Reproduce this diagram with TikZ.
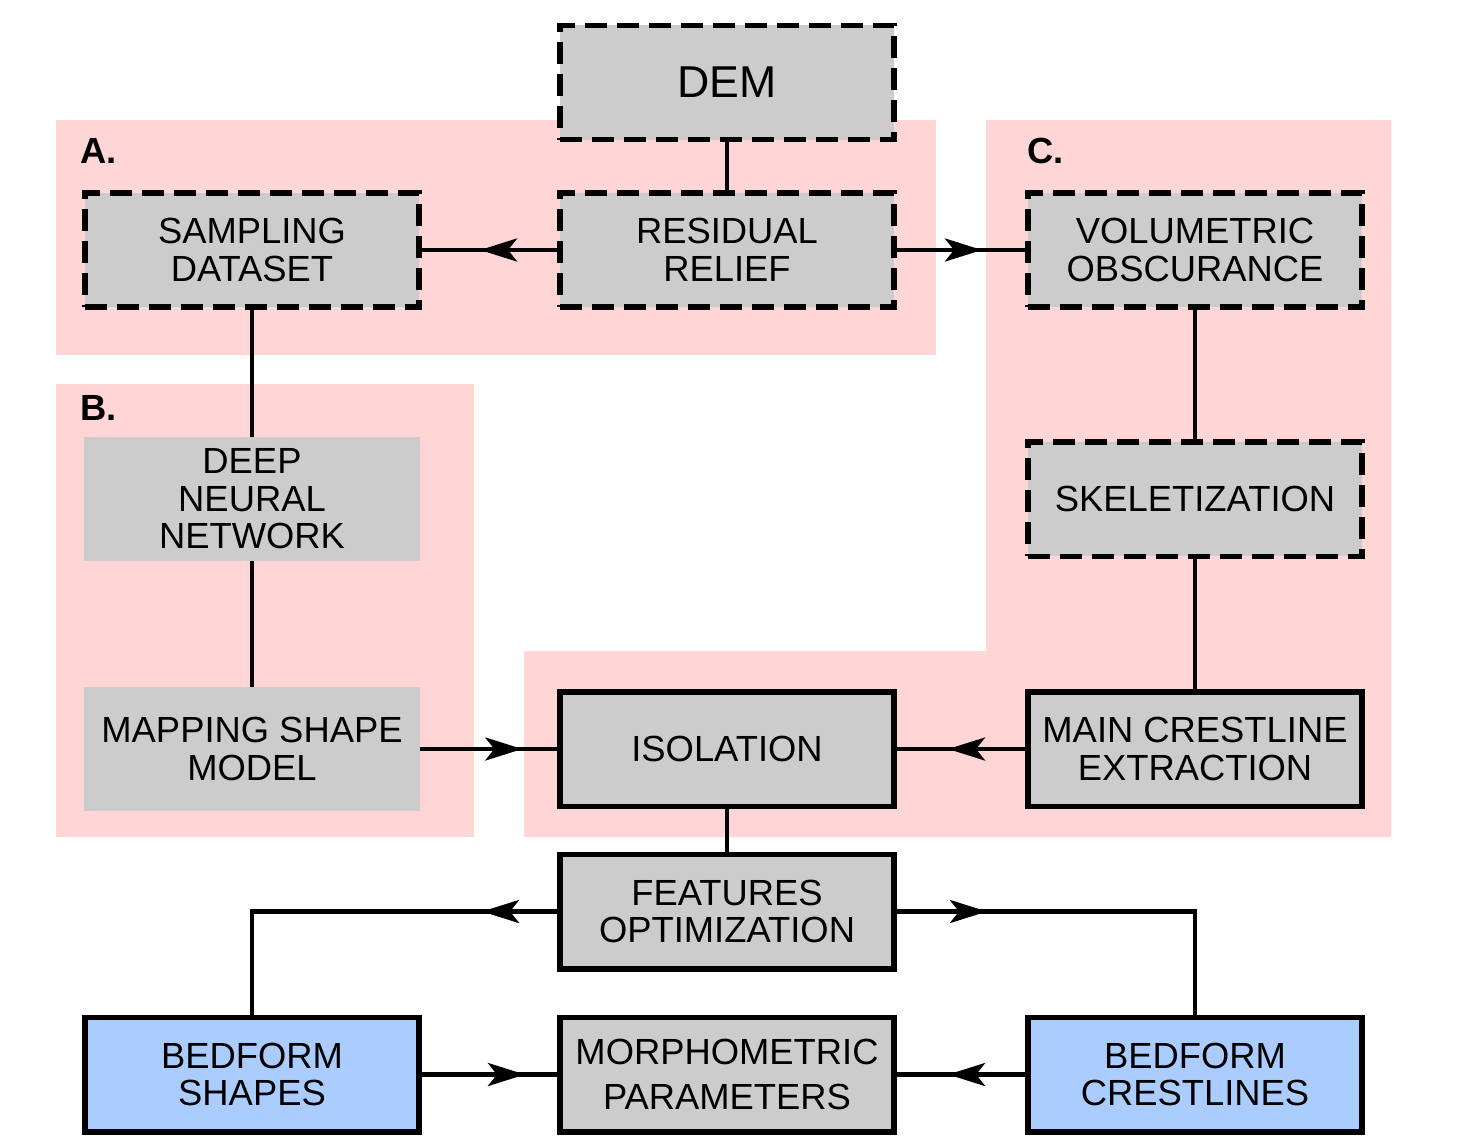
\documentclass[tikz,border=0pt]{standalone}
\usepackage{fontspec}
\setmainfont{Liberation Sans}
\usetikzlibrary{arrows.meta,decorations.markings}
\definecolor{pinkbg}{RGB}{255,213,213}
\definecolor{boxgray}{RGB}{204,204,204}
\definecolor{outblue}{RGB}{170,204,255}
\begin{document}
\begin{tikzpicture}[x=0.02cm, y=-0.02cm,
	font=\fontsize{20.7pt}{21.3pt}\selectfont,
	box/.style={draw, fill=boxgray, line width=0.11cm, minimum width=6.69cm, minimum height=2.29cm, inner sep=0pt, align=center},
	dashbox/.style={box, dash pattern=on 0.44cm off 0.2cm},
	plainbox/.style={fill=boxgray, minimum width=6.72cm, minimum height=2.48cm, inner sep=0pt, align=center},
	outbox/.style={box, fill=outblue},
	tag/.style={anchor=base west, inner sep=0pt, font=\fontsize{20.7pt}{21.3pt}\selectfont\bfseries},
	conn/.style={line width=0.09cm},
	midarrow/.style={postaction={decorate}, decoration={markings, mark=at position #1 with {\arrow{Stealth[length=0.74cm, width=0.46cm, inset=0.18cm]}}}}]
			\useasboundingbox (0,0) rectangle (1476,1143);
			%regions
			\fill[pinkbg] (56,120) rectangle (936,355);
			\fill[pinkbg] (56,384) rectangle (474,837);
			\fill[pinkbg] (986,120) -- (1391,120) -- (1391,837) -- (524,837) -- (524,651) -- (986,651) -- cycle;
			\node[tag] (tagA) at (80,163) {A.};
			\node[tag] (tagB) at (80,420) {B.};
			\node[tag] (tagC) at (1027,163) {C.};
			%boxes
			\node[dashbox, font=\fontsize{25.4pt}{26pt}\selectfont] (dem) at (727,82.5) {DEM};
			\node[dashbox] (samp) at (252,250) {SAMPLING\\DATASET};
			\node[dashbox] (res) at (727,250) {RESIDUAL\\RELIEF};
			\node[dashbox] (vol) at (1195,250) {VOLUMETRIC\\OBSCURANCE};
			\node[plainbox] (dnn) at (252,499) {DEEP\\NEURAL\\NETWORK};
			\node[plainbox] (msm) at (252,749) {MAPPING SHAPE\\MODEL};
			\node[dashbox] (skel) at (1195,499) {SKELETIZATION};
			\node[box] (iso) at (727,749) {ISOLATION};
			\node[box] (mce) at (1195,749) {MAIN CRESTLINE\\EXTRACTION};
			\node[box] (feat) at (727,911.5) {FEATURES\\OPTIMIZATION};
			\node[outbox] (shapes) at (252,1074.5) {BEDFORM\\SHAPES};
			\node[box] (morph) at (727,1074.5) {MORPHOMETRIC\\[4.5pt]PARAMETERS};
			\node[outbox] (crest) at (1195,1074.5) {BEDFORM\\CRESTLINES};
			%links
			\draw[conn] (dem) -- (res);
			\draw[conn] (samp) -- (dnn);
			\draw[conn] (dnn) -- (msm);
			\draw[conn] (vol) -- (skel);
			\draw[conn] (skel) -- (mce);
			\draw[conn] (iso) -- (feat);
			\draw[conn, midarrow=1.54cm] (res.west) -- (samp.east);
			\draw[conn, midarrow=1.70cm] (res.east) -- (vol.west);
			\draw[conn, midarrow=2.04cm] (msm.east) -- (iso.west);
			\draw[conn, midarrow=1.54cm] (mce.west) -- (iso.east);
			\draw[conn, midarrow=1.50cm] (feat.west) -| (shapes.north);
			\draw[conn, midarrow=1.80cm] (feat.east) -| (crest.north);
			\draw[conn, midarrow=2.06cm] (shapes.east) -- (morph.west);
			\draw[conn, midarrow=1.54cm] (crest.west) -- (morph.east);
\end{tikzpicture}
\end{document}
